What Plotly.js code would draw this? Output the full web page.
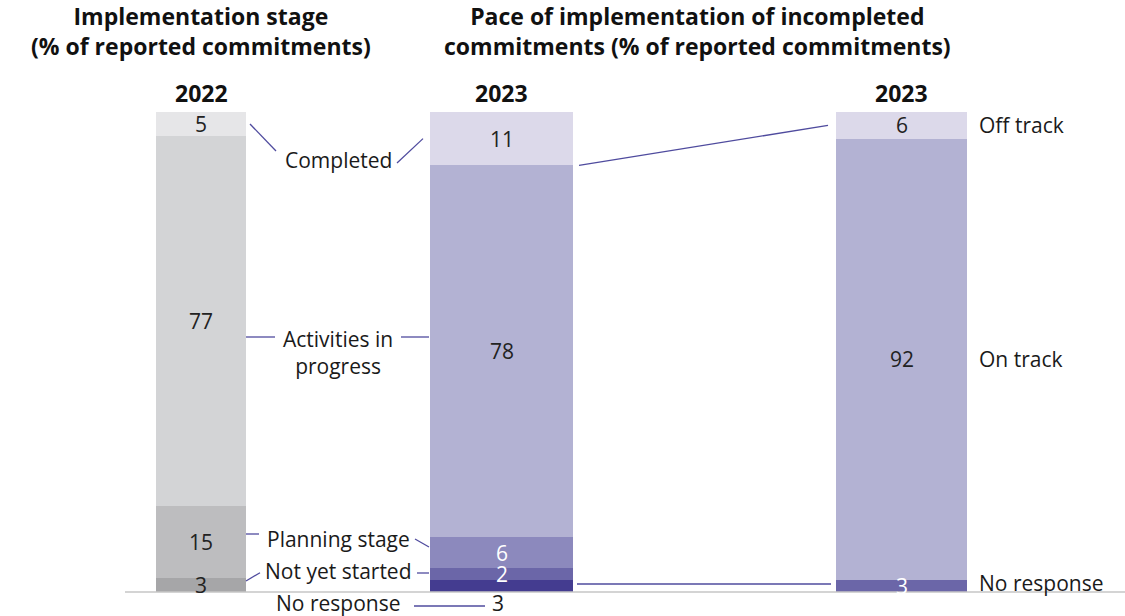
<!DOCTYPE html>
<html>
<head>
<meta charset="utf-8">
<script src="https://cdn.plot.ly/plotly-3.0.1.min.js"></script>
<style>html,body{margin:0;padding:0;background:#fff;}#chart{width:1125px;height:616px;}</style>
</head>
<body>
<div id="chart"></div>
<script>
// ---------------- DATA ----------------
const stageCategories = ['No response', 'Not yet started', 'Planning stage', 'Activities in progress', 'Completed'];
const stageLabels = ['No response', 'Not yet started', 'Planning stage', 'Activities in<br>progress', 'Completed'];
const stage2022 = [0, 3, 15, 77, 5];
const stage2023 = [2.6, 2.4, 6.4, 77.5, 11.1];
const paceCategories = ['No response', 'On track', 'Off track'];
const pace2023 = [2.5, 91.9, 5.6];
const barYears = ['2022', '2023', '2023'];
const panelTitles = ['Implementation stage<br>(% of reported commitments)',
                     'Pace of implementation of incompleted<br>commitments (% of reported commitments)'];

// ---------------- LAYOUT / STYLE ----------------
const W = 1125, H = 616;
const BASE_PX = 592, PX_PER_UNIT = 4.8;
const yOf = p => (BASE_PX - p) / PX_PER_UNIT;   // pixel row -> axis units (for text placement)
const BAR_X = [201, 501.5, 901.5];
const BAR_W = [90, 143, 131];
const grayColors = ['#a6a6a8', '#a6a6a8', '#bdbdbf', '#d3d4d6', '#e6e6e8'];
const purpleColors = ['#443c90', '#6b66a8', '#8c89bd', '#b3b2d3', '#dcd9ea'];
const paceColors = ['#6b66a8', '#b3b2d3', '#dcd9ea'];
const stageTextColors2022 = ['#222', '#222', '#222', '#222', '#222'];
const stageTextColors2023 = ['#222', '#fff', '#fff', '#222', '#222'];
const paceTextColors = ['#fff', '#222', '#222'];
const LINE = '#4f4b9e';
const FONT = '"Open Sans", "Noto Sans", sans-serif';
const FS = 21;
const TFS = 23;

const traces = [];
stageCategories.forEach((c, i) => {
  traces.push({
    type: 'bar', name: c,
    x: [BAR_X[0], BAR_X[1]], y: [stage2022[i], stage2023[i]],
    width: [BAR_W[0], BAR_W[1]],
    marker: {color: [grayColors[i], purpleColors[i]], line: {width: 0}},
    hoverinfo: 'skip'
  });
});
paceCategories.forEach((c, i) => {
  traces.push({
    type: 'bar', name: c,
    x: [BAR_X[2]], y: [pace2023[i]], width: [BAR_W[2]],
    marker: {color: [paceColors[i]], line: {width: 0}},
    hoverinfo: 'skip'
  });
});

const ann = [];
const shapes = [];
const txt = (x, y, text, opts) => ann.push(Object.assign({
  x, y, xref: 'x', yref: 'y', text, showarrow: false,
  font: {family: FONT, size: FS, color: '#1a1a1a'}, xanchor: 'center', yanchor: 'middle'
}, opts || {}));
const seg = (x0, y0, x1, y1) => shapes.push({type: 'line', xref: 'x', yref: 'y', x0, y0, x1, y1,
  line: {color: LINE, width: 1.3}});
const boldFont = {family: FONT, size: TFS, color: '#111', weight: 'bold'};

// titles
const titleX = [BAR_X[0], 697];
panelTitles.forEach((t, k) => txt(titleX[k], yOf(31), t, {font: boldFont}));
barYears.forEach((yr, i) => txt(BAR_X[i], yOf(93), yr, {font: boldFont}));

// segment mids
function mids(vals) { let c = 0; return vals.map(v => { const m = c + v / 2; c += v; return m; }); }
function tops(vals) { let c = 0; return vals.map(v => { c += v; return c; }); }
const m22 = mids(stage2022), m23 = mids(stage2023), mp = mids(pace2023);
const t23 = tops(stage2023);

// value labels
stage2022.forEach((v, i) => { if (v > 0) txt(BAR_X[0], m22[i], String(Math.round(v)), {font: {family: FONT, size: FS, color: stageTextColors2022[i]}}); });
stage2023.forEach((v, i) => {
  if (i === 0) return; // shown below the axis
  txt(BAR_X[1], m23[i], String(Math.round(v)), {font: {family: FONT, size: FS, color: stageTextColors2023[i]}});
});
pace2023.forEach((v, i) => txt(BAR_X[2], mp[i], String(Math.round(v)), {font: {family: FONT, size: FS, color: paceTextColors[i]}}));

// category labels between bar 1 and bar 2
const L1 = BAR_X[0] + BAR_W[0] / 2, L2 = BAR_X[1] - BAR_W[1] / 2;
const midX = (L1 + L2) / 2;
const labelRows = [603, 571, 539, 352, 160];
stageLabels.forEach((lab, i) => txt(midX, yOf(labelRows[i]), lab));
// no response value of 2023 shown below the axis
txt(BAR_X[1] - 4, yOf(603), String(Math.round(stage2023[0])));

// connectors
seg(L1 + 4, m22[4], 276, yOf(151));          // Completed
seg(397, yOf(163), L2 - 7, m23[4]);
seg(L1, yOf(337), 275, yOf(337));            // Activities
seg(401, yOf(337), L2 - 1, yOf(337));
seg(L1, yOf(534), 259, yOf(534));            // Planning
seg(415, yOf(539), L2 - 1, yOf(547));
seg(L1, yOf(581), 260, yOf(572.7));          // Not yet started
seg(417, yOf(573), L2 - 1, yOf(573));
seg(414, yOf(606), 485, yOf(606));           // No response
const R2 = BAR_X[1] + BAR_W[1] / 2, L3 = BAR_X[2] - BAR_W[2] / 2, R3 = BAR_X[2] + BAR_W[2] / 2;
seg(R2 + 6, t23[3], L3 - 8, mp[2]);          // bar2 completed -> off track
seg(R2 + 4, yOf(584), L3 - 5, yOf(584));     // bar2 no response -> bar3 no response

// right labels
paceCategories.forEach((c, i) => txt(R3 + 10, mp[i] + (i === 0 ? 0.7 : 0), c, {xanchor: 'left'}));

// axis baseline
shapes.push({type: 'line', xref: 'x', yref: 'y', x0: 125, x1: W, y0: 0, y1: 0,
  line: {color: '#c6c6c6', width: 1.5}, layer: 'above'});

const layout = {
  width: W, height: H,
  margin: {l: 0, r: 0, t: 0, b: 0, pad: 0},
  paper_bgcolor: '#fff', plot_bgcolor: '#fff',
  barmode: 'stack', bargap: 0, showlegend: false,
  xaxis: {range: [0, W], visible: false, fixedrange: true},
  yaxis: {range: [yOf(H), yOf(0)], visible: false, fixedrange: true},
  annotations: ann, shapes: shapes,
  font: {family: FONT}
};
Plotly.newPlot('chart', traces, layout, {displayModeBar: false, staticPlot: true});
</script>
</body>
</html>
